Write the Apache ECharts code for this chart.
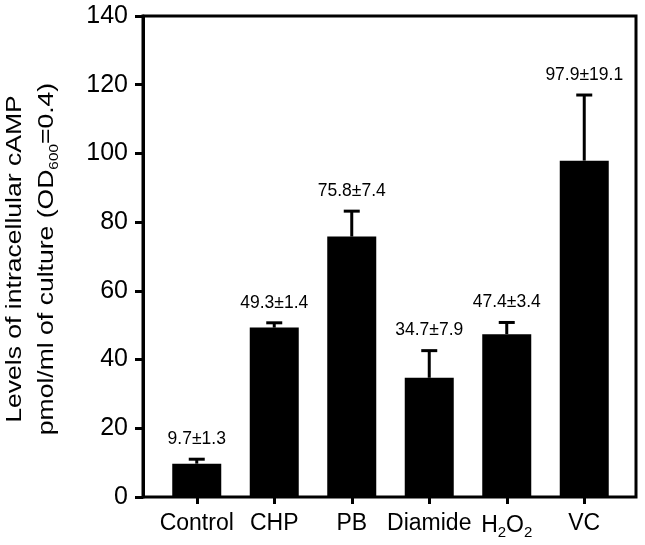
<!DOCTYPE html>
<html>
<head>
<meta charset="utf-8">
<script src="https://cdn.jsdelivr.net/npm/echarts@6/dist/echarts.min.js"></script>
<style>
html,body{margin:0;padding:0;background:#fff;}
#chart{width:645px;height:545px;}
</style>
</head>
<body>
<div id="chart"></div>
<script>
// ---- data ----
const categories = ['Control', 'CHP', 'PB', 'Diamide', 'H2O2', 'VC'];
const meanValues = [9.7, 49.3, 75.8, 34.7, 47.4, 97.9];
const sdValues = [1.3, 1.4, 7.4, 7.9, 3.4, 19.1];
const yTicks = [0, 20, 40, 60, 80, 100, 120, 140];
const yTitleLine1 = 'Levels of intracellular cAMP';
const yTitleLine2 = 'pmol/ml of culture (OD{s|600}=0.4)';

const FONT = '"Liberation Sans", Arial, Helvetica, sans-serif';
const chart = echarts.init(document.getElementById('chart'), null, {renderer: 'canvas'});

const errData = meanValues.map((v, i) => [i, v, sdValues[i]]);
const yMin = yTicks[0], yMax = yTicks[yTicks.length - 1];

const option = {
  backgroundColor: '#fff',
  animation: false,
  grid: [
    {left: 143, top: 16, width: 493, height: 481, show: true, borderColor: '#000', borderWidth: 3, backgroundColor: 'transparent'},
    {left: 158, top: 16, width: 465, height: 481}
  ],
  xAxis: [
    {gridIndex: 0, type: 'value', min: 0, max: 1, show: false},
    {
      gridIndex: 1, type: 'category', data: categories, boundaryGap: true,
      axisLine: {show: false},
      axisTick: {show: true, alignWithLabel: true, interval: 0, length: 7, lineStyle: {color: '#000', width: 3}},
      axisLabel: {
        color: '#000', fontSize: 23, fontFamily: FONT, margin: 15, interval: 0,
        formatter: function (v) {
          if (v === 'H2O2') return '{n|H}{s|2}{n|O}{s|2}';
          return v;
        },
        rich: {
          n: {fontSize: 23, fontFamily: FONT, color: '#000', lineHeight: 27},
          s: {fontSize: 15, fontFamily: FONT, color: '#000', lineHeight: 27, padding: [15, 0, 0, 0]}
        }
      },
      splitLine: {show: false}
    }
  ],
  yAxis: [
    {
      gridIndex: 0, type: 'value', min: yMin, max: yMax, interval: 20,
      axisLine: {show: true, lineStyle: {color: '#000', width: 3}},
      axisTick: {show: true, length: 8, lineStyle: {color: '#000', width: 3}},
      axisLabel: {color: '#000', fontSize: 25, fontFamily: FONT, margin: 15},
      splitLine: {show: false}
    },
    {gridIndex: 1, type: 'value', min: yMin, max: yMax, interval: 20, show: false, splitLine: {show: false}}
  ],
  graphic: [
    {
      type: 'text',
      x: 31, y: 259,
      rotation: Math.PI / 2,
      scaleX: 1.18,
      style: {
        text: yTitleLine1 + '\n' + yTitleLine2,
        fill: '#000', fontSize: 22.5, fontFamily: FONT, lineHeight: 32,
        align: 'center', verticalAlign: 'middle',
        rich: {
          s: {fontSize: 13, fontFamily: FONT, fill: '#000', lineHeight: 32, padding: [14, 0, 0, 0]}
        }
      }
    }
  ],
  series: [
    {
      type: 'bar', xAxisIndex: 1, yAxisIndex: 1,
      data: meanValues, barWidth: 49,
      itemStyle: {color: '#000'}
    },
    {
      type: 'custom', xAxisIndex: 1, yAxisIndex: 1,
      data: errData,
      encode: {x: 0, y: 1},
      z: 5,
      renderItem: function (params, api) {
        const i = api.value(0), v = api.value(1), e = api.value(2);
        const base = api.coord([i, v]);
        const top = api.coord([i, v + e]);
        const hw = 8;
        return {
          type: 'group',
          children: [
            {type: 'line', shape: {x1: base[0], y1: base[1], x2: top[0], y2: top[1]}, style: {stroke: '#000', lineWidth: 3}},
            {type: 'line', shape: {x1: top[0] - hw, y1: top[1], x2: top[0] + hw, y2: top[1]}, style: {stroke: '#000', lineWidth: 3}},
            {type: 'text', x: top[0], y: top[1] - 11,
              style: {text: v.toFixed(1) + '±' + e.toFixed(1), fill: '#000', fontSize: 17.5, fontFamily: FONT, align: 'center', verticalAlign: 'bottom'}}
          ]
        };
      }
    }
  ]
};
chart.setOption(option);
</script>
</body>
</html>
